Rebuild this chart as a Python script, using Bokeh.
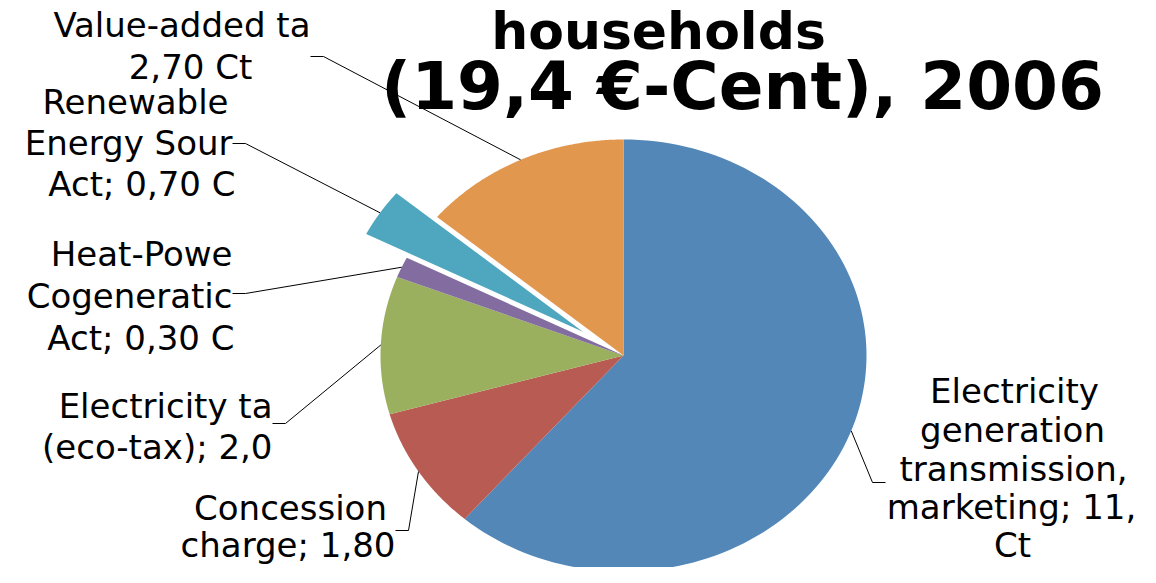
import numpy as np
from bokeh.plotting import figure
from bokeh.models import Range1d, ColumnDataSource
from bokeh.embed import file_html
from bokeh.resources import INLINE
from bokeh.core.properties import value

# ---------------- data ----------------
categories = ["Electricity generation transmission, marketing",
              "Concession charge",
              "Electricity tax (eco-tax)",
              "Heat-Power Cogeneration Act",
              "Renewable Energy Sources Act",
              "Value-added tax"]
values = [11.90, 1.80, 2.00, 0.30, 0.70, 2.70]
# visible (clipped) label texts as they appear in the chart
label_lines = [
    ["Electricity", "generation", "transmission,", "marketing; 11,", "Ct"],
    ["Concession", "charge; 1,80"],
    ["Electricity ta", "(eco-tax); 2,0"],
    ["Heat-Powe", "Cogeneratic", "Act; 0,30 C"],
    ["Renewable", "Energy Sour", "Act; 0,70 C"],
    ["Value-added ta", "2,70 Ct"],
]
title_lines = ["households", "(19,4 \u20ac-Cent), 2006"]

# ---------------- styles / layout ----------------
colors = ["#5387b8", "#b85b52", "#9bb05e", "#826ca0", "#4ea7bf", "#e2974e"]
explode = [0, 0, 0, 0, 0.2, 0]

W, H = 1140, 567
CX, CY = 623, 355       # pie centre (pixels)
RX, RY = 243, 216       # pie radii (pixels)
BASE_SHIFT = 0.4        # em correction so that the glyph baseline lands on y


def dx(px):
    return (px - CX) / RX


def dy(py):
    return (CY - py) / RY


p = figure(width=W, height=H,
           x_range=Range1d(dx(0), dx(W)),
           y_range=Range1d(dy(H), dy(0)),
           output_backend="svg", toolbar_location=None,
           x_axis_type=None, y_axis_type=None, min_border=0)
p.grid.visible = False
p.outline_line_color = None
p.background_fill_color = "white"
p.border_fill_color = "white"

# ---------------- pie slices ----------------
vals = np.array(values, dtype=float)
frac = vals / vals.sum()
ends = np.cumsum(frac) * 2 * np.pi
starts = ends - frac * 2 * np.pi
xs, ys, mids = [], [], []
for s, e, ex in zip(starts, ends, explode):
    m = (s + e) / 2
    mids.append(m)
    ox, oy = ex * np.sin(m), ex * np.cos(m)
    t = np.linspace(s, e, 120)
    xs.append(list(np.concatenate([[ox], ox + np.sin(t)])))
    ys.append(list(np.concatenate([[oy], oy + np.cos(t)])))

p.patches(source=ColumnDataSource(dict(xs=xs, ys=ys, c=colors, name=categories)),
          xs="xs", ys="ys", fill_color="c", line_color=None)

# ---------------- leader lines ----------------
elbows = [((872, 482), (885, 482)),
          ((408, 530), (395, 530)),
          ((285, 423), (272, 423)),
          ((245, 293), (232, 293)),
          ((245, 143), (232, 143)),
          ((323, 56), (310, 56))]
lx, ly = [], []
for m, ex, (e1, e2) in zip(mids, explode, elbows):
    r = 1.0 + ex
    sx, sy = r * np.sin(m), r * np.cos(m)
    lx.append([sx, dx(e1[0]), dx(e2[0])])
    ly.append([sy, dy(e1[1]), dy(e2[1])])
p.multi_line(xs=lx, ys=ly, line_color="black", line_width=1)

# ---------------- labels ----------------
# per line: (x px, baseline px, align)
LFS = 34
label_pos = [
    [(1014, 404, "center"), (1012, 443, "center"), (1013, 482, "center"),
     (1011, 520, "center"), (1012, 558, "center")],
    [(290, 521, "center"), (395, 558, "right")],
    [(272, 419, "right"), (272, 460, "right")],
    [(232, 267, "right"), (232, 309, "right"), (234, 351, "right")],
    [(135, 115, "center"), (232, 156, "right"), (235, 197, "right")],
    [(310, 38, "right"), (190, 80, "center")],
]
for lines, poss in zip(label_lines, label_pos):
    for txt, (x, y, al) in zip(lines, poss):
        p.text(x=[dx(x)], y=[dy(y - BASE_SHIFT * LFS)], text=[txt], text_align=al,
               text_baseline="alphabetic", text_color="black",
               text_font=value("DejaVu Sans"), text_font_size=f"{LFS}px")

# ---------------- title ----------------
title_pos = [(658, 51, 52), (742, 112, 66)]
for txt, (x, y, fs) in zip(title_lines, title_pos):
    p.text(x=[dx(x)], y=[dy(y - BASE_SHIFT * fs)], text=[txt], text_align="center",
           text_baseline="alphabetic", text_color="black",
           text_font=value("DejaVu Sans"), text_font_style="bold",
           text_font_size=f"{fs}px")

open("out.html", "w").write(file_html(p, INLINE))
